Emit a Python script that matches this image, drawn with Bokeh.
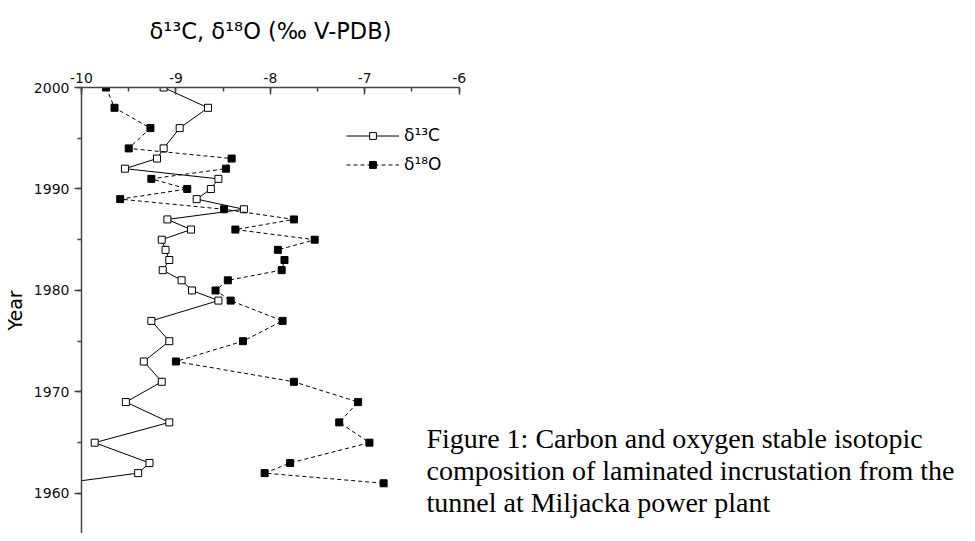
from bokeh.plotting import figure
from bokeh.models import (Range1d, Legend, LegendItem, Label, SingleIntervalTicker,
                          ColumnDataSource, CustomJSTickFormatter)
from bokeh.embed import file_html
from bokeh.resources import INLINE

# ---- data ----
years = [2000, 1998, 1996, 1994, 1993, 1992, 1991, 1990, 1989, 1988, 1987, 1986,
         1985, 1984, 1983, 1982, 1981, 1980, 1979, 1977, 1975, 1973, 1971, 1969,
         1967, 1965, 1963, 1962, 1961]
d13c = [-9.13, -8.66, -8.96, -9.13, -9.20, -9.54, -8.55, -8.63, -8.78, -8.28, -9.09, -8.84,
        -9.15, -9.11, -9.07, -9.14, -8.94, -8.83, -8.55, -9.26, -9.07, -9.34, -9.15, -9.53,
        -9.07, -9.86, -9.28, -9.40, -10.2]
d18o = [-9.74, -9.65, -9.27, -9.50, -8.41, -8.47, -9.26, -8.88, -9.59, -8.49, -7.75, -8.37,
        -7.53, -7.92, -7.85, -7.88, -8.45, -8.58, -8.42, -7.87, -8.29, -9.00, -7.75, -7.07,
        -7.27, -6.95, -7.79, -8.06, -6.80]

x_title = "δ¹³C, δ¹⁸O (‰ V-PDB)"
y_title = "Year"
label_c = "δ¹³C"
label_o = "δ¹⁸O"
caption = ["Figure 1: Carbon and oxygen stable isotopic",
           "composition of laminated incrustation from the",
           "tunnel at Miljacka power plant"]

src = ColumnDataSource(dict(year=years, c=d13c, o=d18o))

p = figure(width=959, height=546, output_backend="svg", toolbar_location=None,
           x_range=Range1d(-10, -0.7), y_range=Range1d(1956.05, 2000),
           x_axis_location="above", title=x_title,
           min_border_left=76, min_border_top=100, min_border_right=0,
           min_border_bottom=0, margin=(-13, 0, 0, 0))
p.outline_line_color = None
p.grid.visible = False
p.background_fill_color = "white"
p.border_fill_color = "white"

p.title.align = "left"
p.title.vertical_align = "top"
p.title.offset = 68
p.title.text_font = "DejaVu Sans"
p.title.text_font_size = "22.5px"
p.title.text_font_style = "normal"
p.title.text_color = "black"
p.title.standoff = 48

# top axis
xa = p.xaxis[0]
xa.bounds = (-10, -6)
xa.ticker = SingleIntervalTicker(interval=1, num_minor_ticks=2)
xa.formatter = CustomJSTickFormatter(code="return tick.toFixed(0)")
xa.major_tick_in = 7
xa.major_tick_out = 0
xa.minor_tick_in = 4
xa.minor_tick_out = 0
xa.major_label_standoff = 5

# left axis
ya = p.yaxis[0]
ya.ticker = SingleIntervalTicker(interval=10, num_minor_ticks=2)
ya.bounds = (1950, 2000)
ya.major_tick_in = 0
ya.major_tick_out = 7
ya.minor_tick_in = 0
ya.minor_tick_out = 4
ya.axis_label = y_title
ya.axis_label_text_font = "DejaVu Sans"
ya.axis_label_text_font_size = "19px"
ya.axis_label_text_font_style = "normal"
ya.axis_label_text_color = "black"
ya.axis_label_standoff = 5
ya.major_label_standoff = 5

for ax in (xa, ya):
    ax.axis_line_color = "#444444"
    ax.axis_line_width = 1.5
    ax.major_tick_line_color = "#444444"
    ax.major_tick_line_width = 1.5
    ax.minor_tick_line_color = "#444444"
    ax.minor_tick_line_width = 1.5
    ax.major_label_text_font = "DejaVu Sans"
    ax.major_label_text_font_size = "14px"
    ax.major_label_text_color = "#111111"

lc = p.line("c", "year", source=src, line_color="black", line_width=1)
mc = p.scatter("c", "year", source=src, marker="square", size=7,
               fill_color="white", line_color="black", line_width=1)
lo = p.line("o", "year", source=src, line_color="black", line_width=1, line_dash="4 3")
mo = p.scatter("o", "year", source=src, marker="square", size=7,
               fill_color="black", line_color="black", line_width=1)

legend = Legend(items=[LegendItem(label=label_c, renderers=[lc, mc]),
                       LegendItem(label=label_o, renderers=[lo, mo])],
                location=(265, 359), orientation="vertical",
                glyph_width=53, glyph_height=17, label_height=17,
                label_standoff=5, spacing=9, padding=0, margin=0,
                border_line_alpha=0, background_fill_alpha=0,
                label_text_font="DejaVu Sans", label_text_font_size="17px",
                label_text_color="black")
p.add_layout(legend)

for txt, yy in zip(caption, [95, 63, 31]):
    p.add_layout(Label(x=345, y=yy, x_units="screen", y_units="screen", text=txt,
                       text_font="Liberation Serif", text_font_size="28px",
                       text_color="black", text_baseline="alphabetic"))

open("out.html", "w").write(file_html(p, INLINE))
